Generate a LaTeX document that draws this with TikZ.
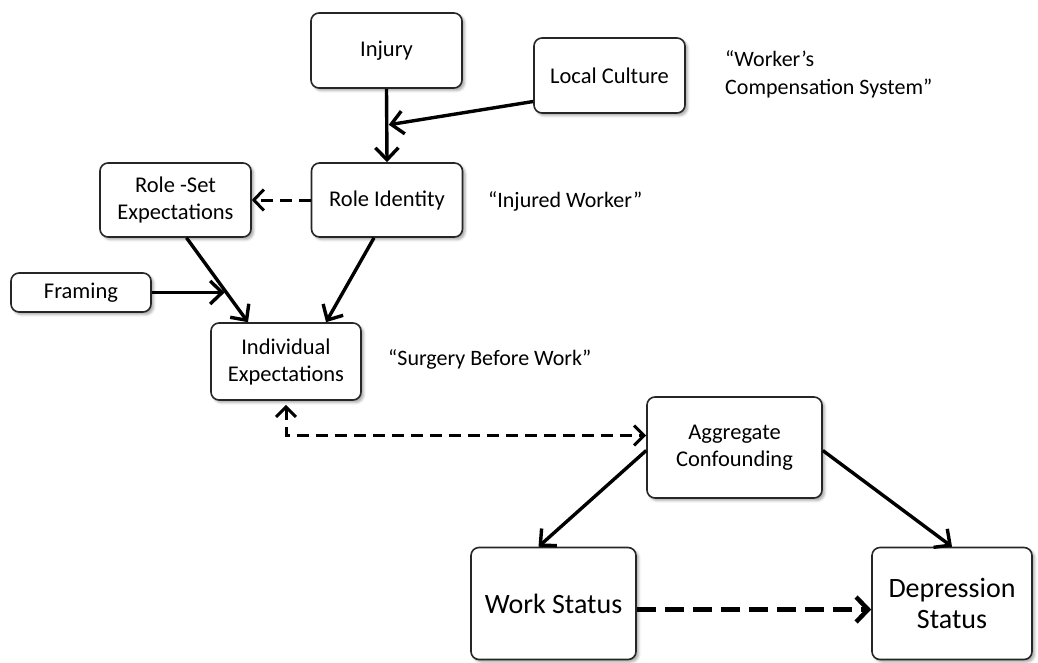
\documentclass[tikz,border=0pt]{standalone}
\usepackage{fontspec}
\setmainfont{Carlito}
\usetikzlibrary{arrows.meta,shadows.blur,calc}

\tikzset{
  box/.style={draw=black!85, line width=1.6pt, rounded corners=8pt, fill=white,
    align=center, inner sep=2pt, font=\fontsize{22.5}{27}\selectfont,
    blur shadow={shadow xshift=2.5pt, shadow yshift=-2.5pt, shadow blur radius=2.5pt, shadow opacity=35}},
  bigbox/.style={box, font=\fontsize{28}{31}\selectfont},
  note/.style={align=left, inner sep=0pt, font=\fontsize{22}{28}\selectfont},
  link/.style={line width=3.4pt, -{Straight Barb[length=12pt,width=23pt]}},
  dashlink/.style={line width=3pt, dash pattern=on 12pt off 7pt, -{Straight Barb[length=10pt,width=21pt]}},
  bothlink/.style={line width=3pt, dash pattern=on 12pt off 7pt, {Straight Barb[length=10pt,width=20pt]}-{Straight Barb[length=10pt,width=20pt]}},
  heavydash/.style={line width=4.5pt, dash pattern=on 19pt off 9pt, -{Straight Barb[length=12pt,width=25pt]}},
}

\begin{document}
\begin{tikzpicture}[x=1pt, y=-1pt]
\useasboundingbox (0,0) rectangle (1038,662);

% boxes
\node[box, minimum width=151pt, minimum height=75pt] (injury) at (386.5,50.5) {Injury};
\node[box, minimum width=151pt, minimum height=75pt] (culture) at (609.5,75.5) {Local Culture};
\node[box, minimum width=151pt, minimum height=74pt] (roleset) at (175.5,200) {Role -Set\\Expectations};
\node[box, minimum width=151pt, minimum height=74pt] (roleid) at (387,200) {Role Identity};
\node[box, minimum width=140pt, minimum height=39pt] (framing) at (81,292.5) {Framing};
\node[box, minimum width=150pt, minimum height=77pt] (ie) at (286,361.5) {Individual\\Expectations};
\node[box, minimum width=175pt, minimum height=101pt] (agg) at (734.5,447.5) {Aggregate\\Confounding};
\node[bigbox, minimum width=165pt, minimum height=112pt] (work) at (553.5,603.5) {Work Status};
\node[bigbox, minimum width=160pt, minimum height=112pt] (dep) at (952,603.5) {Depression\\Status};

% quoted annotations
\node[note, anchor=west] (qcomp) at (725,74) {“Worker’s\\Compensation System”};
\node[note, anchor=west] (qinj) at (488,201) {“Injured Worker”};
\node[note, anchor=west] (qsurg) at (388,359) {“Surgery Before Work”};

% anchor points on the boxes
\coordinate (rsout) at ($(roleset.south)+(11,0)$);
\coordinate (iein1) at ($(ie.north)+(-38,0)$);
\coordinate (ridout) at ($(roleid.south)+(-13,0)$);
\coordinate (iein2) at ($(ie.north)+(40,0)$);
\coordinate (cultout) at ($(culture.west)+(0,26)$);
\coordinate (midrole) at ($(injury.south)!0.49!(roleid.north)$);
\coordinate (framehit) at ($(rsout)!0.62!(iein1)$);
\coordinate (aggin) at ($(agg.west)+(0,-12)$);
\coordinate (workin) at ($(work.north)+(-15,0)$);

% connectors
\draw[link] (injury.south) -- (roleid.north);
\draw[link] (cultout) -- ($(midrole)+(2,0)$);
\draw[dashlink] (roleid.west) -- (roleset.east);
\draw[link] (rsout) -- (iein1);
\draw[link] (ridout) -- (iein2);
\draw[link] (framing.east) -- (framing.east -| framehit);
\draw[bothlink] ($(ie.south)+(0,4)$) |- (aggin);
\draw[link] ($(agg.west)+(0,3)$) -- (workin);
\draw[link] ($(agg.east)+(0,3)$) -- (dep.north);
\draw[heavydash] ($(work.east)+(0,6)$) -- ($(dep.west)+(0,6)$);
\end{tikzpicture}
\end{document}
